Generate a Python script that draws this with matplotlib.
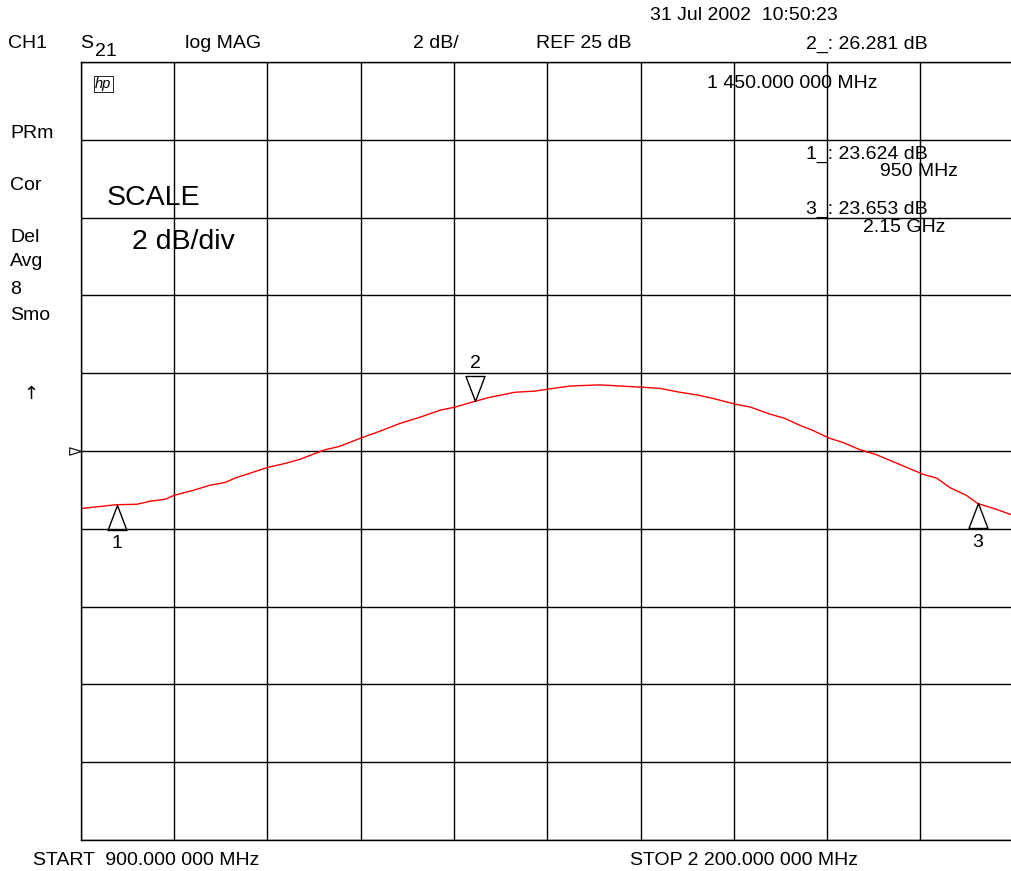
import numpy as np
import matplotlib
matplotlib.use("Agg")
import matplotlib.pyplot as plt

plt.rcParams['font.family'] = ['Liberation Sans', 'DejaVu Sans']

# S21 trace (MHz, dB)
freq_mhz = [900, 950, 978, 997, 1018, 1030, 1057, 1080, 1101, 1116, 1136, 1161,
            1185, 1206, 1220, 1240, 1261, 1290, 1317, 1345, 1373, 1401, 1422,
            1450, 1470, 1505, 1533, 1551, 1582, 1623, 1652, 1682, 1707, 1735,
            1759, 1777, 1813, 1833, 1860, 1881, 1902, 1920, 1943, 1962, 1986,
            2008, 2038, 2074, 2093, 2111, 2134, 2150, 2176, 2200]
s21_db = [23.52, 23.62, 23.63, 23.71, 23.76, 23.86, 23.99, 24.12, 24.19, 24.31,
          24.43, 24.58, 24.68, 24.79, 24.89, 25.03, 25.12, 25.33, 25.51, 25.71,
          25.87, 26.05, 26.13, 26.28, 26.38, 26.51, 26.54, 26.59, 26.67, 26.70,
          26.67, 26.64, 26.61, 26.51, 26.44, 26.37, 26.20, 26.13, 25.95, 25.84,
          25.66, 25.53, 25.33, 25.22, 25.03, 24.91, 24.68, 24.40, 24.30, 24.06,
          23.86, 23.65, 23.50, 23.34]

marker_freq = [950, 1450, 2150]
marker_db = [23.624, 26.281, 23.653]
marker_names = ['1', '2', '3']

start_mhz, stop_mhz = 900, 2200
ref_db, scale_db = 25, 2

W, H = 1012, 871
fig = plt.figure(figsize=(W / 100, H / 100), dpi=100)

def px(x, y):
    return x / W, 1 - y / H

x0, y0 = px(80.7, 840)
ax = fig.add_axes([x0, y0, 933 / W, 778 / H])
ax.set_xlim(start_mhz, stop_mhz)
ax.set_ylim(ref_db - 5 * scale_db, ref_db + 5 * scale_db)
ax.set_xticks(np.linspace(start_mhz, stop_mhz, 11))
ax.set_yticks(np.arange(ref_db - 5 * scale_db, ref_db + 5 * scale_db + 1, scale_db))
ax.tick_params(length=0, labelbottom=False, labelleft=False)
ax.grid(True, color='black', lw=1)
for s in ax.spines.values():
    s.set_color('black')
    s.set_linewidth(1)

ax.plot(freq_mhz, s21_db, color='red', lw=1)

# markers: triangles with tip on the trace
up = [(0, 0), (-0.38, -1), (0.38, -1), (0, 0)]
down = [(0, 0), (-0.38, 1), (0.38, 1), (0, 0)]
for f, v, name in zip(marker_freq, marker_db, marker_names):
    if name == '2':
        ax.plot([f], [v], marker=down, ms=36, mfc='none', mec='black', mew=1, clip_on=False)
        ax.annotate(name, (f, v), xytext=(0, 27), textcoords='offset points',
                    ha='center', va='center', fontsize=14)
    else:
        ax.plot([f], [v], marker=up, ms=36, mfc='none', mec='black', mew=1, clip_on=False)
        ax.annotate(name, (f, v), xytext=(0, -28), textcoords='offset points',
                    ha='center', va='center', fontsize=14)

# reference level pointer
ref_mark = [(0, 0), (-1, 0.31), (-1, -0.31), (0, 0)]
ax.plot([0], [ref_db], marker=ref_mark, ms=17, mfc='none', mec='black', mew=0.8,
        transform=ax.get_yaxis_transform(), clip_on=False)

def put(x, y, s, size=14, ha='left', **kw):
    fig.text(*px(x, y), s, fontsize=size, ha=ha, va='center', **kw)

put(650, 16, '31 Jul 2002  10:50:23')
put(8, 44, 'CH1')
put(80, 44, 'S')
put(95, 51, '21')
put(185, 44, 'log MAG')
put(413, 44, '2 dB/')
put(536, 44, 'REF 25 dB')
put(806, 44, '2_: 26.281 dB')
put(707, 83, '1 450.000 000 MHz')
put(806, 154, '1_: 23.624 dB')
put(958, 172, '950 MHz', ha='right')
put(806, 209, '3_: 23.653 dB')
put(946, 227, '2.15 GHz', ha='right')

for lbl, yy in [('PRm', 133), ('Cor', 185), ('Del', 237), ('Avg', 262),
                ('8', 289), ('Smo', 315)]:
    put(10, yy, lbl)
put(31, 394, '\u2191', ha='center', family=['DejaVu Sans'], size=13)

put(107, 198, 'SCALE', size=20.5)
put(132, 242, '2 dB/div', size=20.5)

fig.text(*px(95, 84), 'hp', fontsize=10.5, fontstyle='italic', ha='left', va='center',
         bbox=dict(boxstyle='square,pad=0.1', fc='none', ec='black', lw=0.6))

put(33, 860, 'START  900.000 000 MHz')
put(630, 860, 'STOP 2 200.000 000 MHz')

fig.savefig('out.png', dpi=100)
